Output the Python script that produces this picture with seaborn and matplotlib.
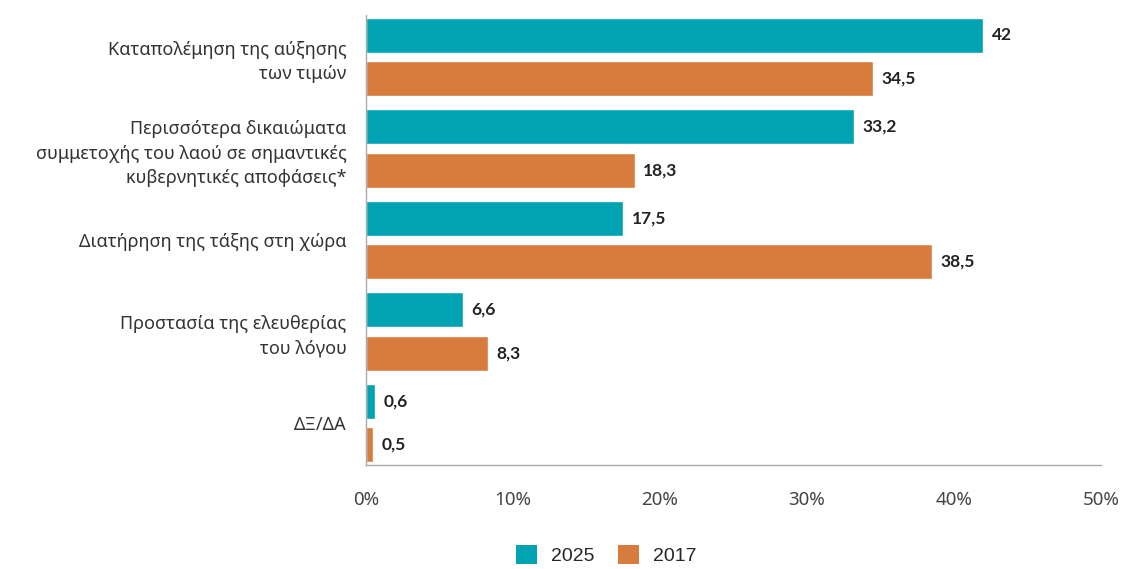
import matplotlib
matplotlib.use("Agg")
import matplotlib.pyplot as plt
import seaborn as sns
import pandas as pd
from matplotlib.patches import Patch

categories = [
    "Καταπολέμηση της αύξησης\nτων τιμών",
    "Περισσότερα δικαιώματα\nσυμμετοχής του λαού σε σημαντικές\nκυβερνητικές αποφάσεις*",
    "Διατήρηση της τάξης στη χώρα",
    "Προστασία της ελευθερίας\nτου λόγου",
    "ΔΞ/ΔΑ",
]
series_names = ["2025", "2017"]
values_2025 = [42, 33.2, 17.5, 6.6, 0.6]
values_2017 = [34.5, 18.3, 38.5, 8.3, 0.5]
x_ticks = [0, 10, 20, 30, 40, 50]
x_tick_labels = ["0%", "10%", "20%", "30%", "40%", "50%"]
colors = {"2025": "#00A3B1", "2017": "#D77C3C"}

df = pd.DataFrame({
    "category": categories * 2,
    "year": [series_names[0]] * len(categories) + [series_names[1]] * len(categories),
    "value": values_2025 + values_2017,
})

sns.set_theme(style="white")
plt.rcParams["font.family"] = ["Noto Sans", "DejaVu Sans"]

fig = plt.figure(figsize=(11.44, 5.69), dpi=100)
ax = fig.add_axes([366 / 1144, 1 - 465 / 569, 735 / 1144, 450 / 569])

sns.barplot(data=df, y="category", x="value", hue="year", orient="h",
            palette=colors, width=0.95, gap=0.2, ax=ax, legend=False,
            saturation=1, errorbar=None)

for cont in ax.containers:
    labels = [f"{v:g}".replace(".", ",") for v in cont.datavalues]
    ax.bar_label(cont, labels=labels, padding=6, fontsize=12.5,
                 fontweight="bold", color="#222222",
                 family=["Lato", "DejaVu Sans"])

ax.set_xlim(0, 50)
ax.set_ylim(4.46, -0.46)
ax.set_xticks(x_ticks)
ax.set_xticklabels(x_tick_labels, fontsize=13.5, color="#444444")
ax.set_yticks(range(len(categories)))
ax.set_yticklabels(categories, fontsize=13, color="#333333", linespacing=1.45)
ax.set_yticks([i + 0.5 for i in range(len(categories) - 1)], minor=True)
ax.tick_params(axis="y", which="major", length=0, pad=14)
ax.tick_params(axis="y", which="minor", length=4, color="#aaaaaa", width=1, direction="out")
ax.tick_params(axis="x", which="major", length=5, color="#aaaaaa", width=1,
               direction="inout", pad=16)
ax.set_xlabel("")
ax.set_ylabel("")
for s in ["top", "right"]:
    ax.spines[s].set_visible(False)
for s in ["left", "bottom"]:
    ax.spines[s].set_color("#aaaaaa")
    ax.spines[s].set_linewidth(1)

handles = [Patch(facecolor=colors[n], edgecolor="none", label=n) for n in series_names]
fig.legend(handles=handles, loc="center", bbox_to_anchor=(606 / 1144, 1 - 555 / 569),
           ncol=2, frameon=False, handlelength=1.1, handleheight=1.1,
           handletextpad=0.7, columnspacing=1.2,
           prop={"family": ["Liberation Sans", "DejaVu Sans"], "size": 14})

fig.savefig("out.png", dpi=100)
